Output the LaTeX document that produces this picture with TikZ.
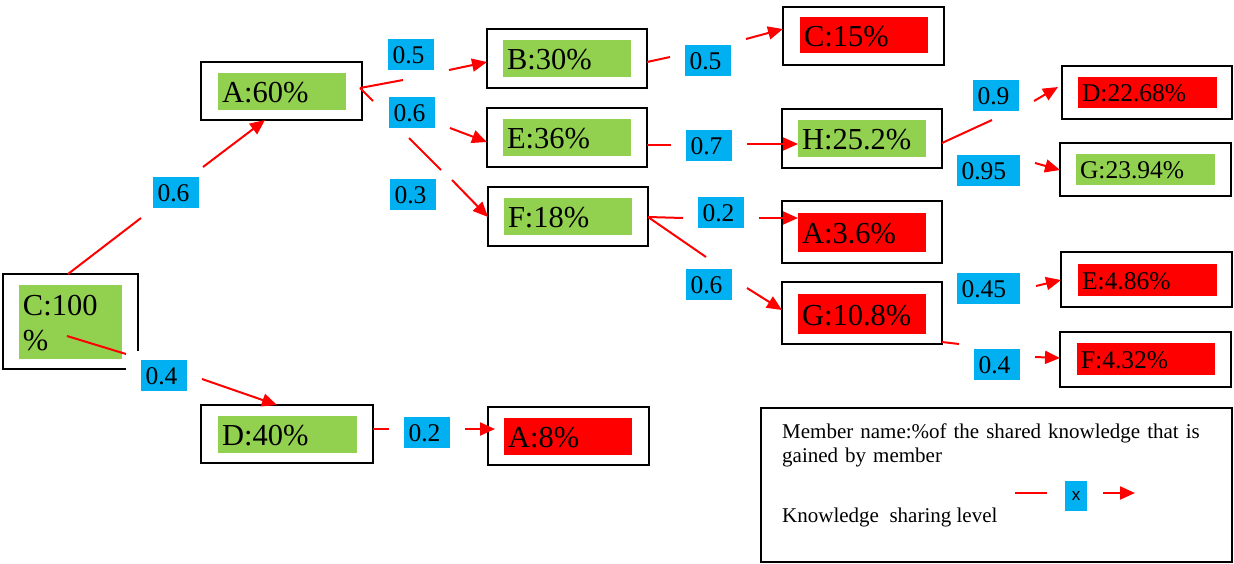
\documentclass[tikz,border=0pt]{standalone}
\usepackage{fontspec}
\setmainfont{Liberation Serif}
\newfontfamily\keyfont{Liberation Sans}
\usetikzlibrary{arrows.meta,calc}
\definecolor{leafgreen}{HTML}{92D050}
\definecolor{linkred}{HTML}{FF0000}
\definecolor{levelblue}{HTML}{00B0F0}

\begin{document}
\begin{tikzpicture}[x=1pt,y=-1pt,
  frame/.style 2 args={draw=black, line width=2pt, anchor=north west,
    inner sep=0pt, outer sep=0pt, minimum width=#1, minimum height=#2},
  share/.style={anchor=north west, inner xsep=4pt, inner ysep=0pt, outer sep=0pt,
    align=left, text height=22.5pt, text depth=0pt,
    font=\fontsize{30.5}{36}\selectfont},
  shareS/.style={share, text height=18pt, font=\fontsize{25.5}{30}\selectfont},
  gain/.style 2 args={share, fill=leafgreen, text width=#1, minimum height=#2},
  lost/.style 2 args={share, fill=linkred, text width=#1, minimum height=#2},
  gainS/.style 2 args={shareS, fill=leafgreen, text width=#1, minimum height=#2},
  lostS/.style 2 args={shareS, fill=linkred, text width=#1, minimum height=#2},
  level/.style={fill=levelblue, anchor=north west, inner xsep=4.5pt, inner ysep=0pt,
    outer sep=0pt, minimum height=31pt, text height=18.5pt, text depth=0pt,
    align=left, text width=37pt, font=\fontsize{25.5}{30}\selectfont},
  levelW/.style={level, text width=54pt},
  link/.style={draw=linkred, line width=2pt},
  flow/.style={link, -{Triangle[length=15pt,width=13pt]}},
]
\useasboundingbox (0,0) rectangle (1234,563);

% ---- member boxes: outer frame and coloured share tag ----
\node[frame={135pt}{95pt}, draw=none] (C) at (3,274) {};
\draw[line width=2pt] ($(C.south east)+(-12,0)$) -- (C.south west) -- (C.north west)
  -- (C.north east) -- ($(C.south east)+(0,-18)$);
\node[anchor=north west, fill=leafgreen, inner xsep=4pt, inner ysep=0pt, outer sep=0pt,
  align=left, text width=95pt, minimum height=74pt, text height=21pt, text depth=35pt,
  font=\fontsize{30.5}{35}\selectfont] (Cin) at (19,285) {C:100\\\%};

\node[frame={161pt}{58pt}] (A) at (201,62) {};
\node[gain={120pt}{37pt}] (Ain) at (218,73) {A:60\%};
\node[frame={160pt}{59pt}] (B) at (487,29) {};
\node[gain={120pt}{37pt}] (Bin) at (503,40) {B:30\%};
\node[frame={160pt}{59pt}] (E) at (487,108) {};
\node[gain={120pt}{37pt}] (Ein) at (503,119) {E:36\%};
\node[frame={160pt}{59pt}] (F) at (488,187) {};
\node[gain={120pt}{37pt}] (Fin) at (504,198) {F:18\%};
\node[frame={161pt}{58pt}] (C15) at (783,7) {};
\node[lost={120pt}{36pt}] (C15in) at (800,17) {C:15\%};
\node[frame={160pt}{59pt}] (H) at (782,109) {};
\node[gain={120pt}{37pt}] (Hin) at (798,120) {H:25.2\%};
\node[frame={160pt}{62pt}] (A36) at (782,201) {};
\node[lost={120pt}{39pt}] (A36in) at (798,213) {A:3.6\%};
\node[frame={160pt}{62pt}] (G108) at (782,282) {};
\node[lost={120pt}{40pt}] (G108in) at (798,294) {G:10.8\%};
\node[frame={172pt}{58pt}] (D40) at (201,405) {};
\node[gain={131pt}{37pt}] (D40in) at (218,416) {D:40\%};
\node[frame={161pt}{58pt}] (A8) at (488,407) {};
\node[lost={120pt}{37pt}] (A8in) at (504,418) {A:8\%};
\node[frame={170pt}{53pt}] (D22) at (1062,66) {};
\node[lostS={131pt}{31pt}] (D22in) at (1078,77) {D:22.68\%};
\node[frame={171pt}{53pt}] (G23) at (1060,143) {};
\node[gainS={131pt}{31pt}] (G23in) at (1076,154) {G:23.94\%};
\node[frame={171pt}{55pt}] (E486) at (1061,252) {};
\node[lostS={131pt}{32pt}] (E486in) at (1078,264) {E:4.86\%};
\node[frame={171pt}{55pt}] (F432) at (1060,332) {};
\node[lostS={130pt}{32pt}] (F432in) at (1077,343) {F:4.32\%};

% ---- connector break points ----
\coordinate (ca1) at ($(C.north west)+(65,0)$);
\coordinate (ca2) at (141,218);
\coordinate (ca3) at (203,167);
\coordinate (ca4) at ($(A.south west)+(64,0)$);
\coordinate (cd1) at (67,336);
\coordinate (cd2) at (126,354);
\coordinate (cd3) at (202,379);
\coordinate (cd4) at ($(D40.north west)+(76,0)$);
\coordinate (ab0) at ($(A.north east)+(-2,26)$);
\coordinate (ab1) at (403,80);
\coordinate (ab2) at (449,70);
\coordinate (ab3) at ($(B.north west)+(0,33)$);
\coordinate (ae2) at (450,128);
\coordinate (ae3) at ($(E.north west)+(0,34)$);
\coordinate (af1) at (373,101);
\coordinate (af2) at (409,138);
\coordinate (af3) at (441,170);
\coordinate (af4) at (452,180);
\coordinate (af5) at ($(F.north west)+(0,30)$);
\coordinate (bc1) at ($(B.north east)+(0,33)$);
\coordinate (bc2) at (670,57);
\coordinate (bc3) at (746,39);
\coordinate (bc4) at ($(C15.north west)+(0,22)$);
\coordinate (eh1) at ($(E.north east)+(0,37)$);
\coordinate (eh2) at (671,145);
\coordinate (eh3) at (747,144);
\coordinate (eh4) at ($(Hin.north west)+(0,24)$);
\coordinate (fa1) at ($(F.north east)+(0,30)$);
\coordinate (fa2) at (683,218);
\coordinate (fa3) at (759,218);
\coordinate (fa4) at ($(A36in.north west)+(0,5)$);
\coordinate (fg2) at (706,257);
\coordinate (fg3) at (747,288);
\coordinate (fg4) at ($(G108.north west)+(0,28)$);
\coordinate (hd1) at ($(H.north east)+(0,34)$);
\coordinate (hd2) at (992,120);
\coordinate (hd3) at (1034,101);
\coordinate (hd4) at ($(D22.north west)+(-4,21)$);
\coordinate (hg3) at (1035,163);
\coordinate (hg4) at ($(G23.north west)+(0,27)$);
\coordinate (ge3) at (1036,286);
\coordinate (ge4) at ($(E486.north west)+(0,28)$);
\coordinate (gf1) at ($(G108.north east)+(0,60)$);
\coordinate (gf2) at (959,344);
\coordinate (gf3) at (1035,357);
\coordinate (gf4) at ($(F432.north west)+(0,26)$);
\coordinate (da1) at ($(D40.north east)+(0,24)$);
\coordinate (da2) at (389,429);
\coordinate (da3) at (465,429);
\coordinate (da4) at ($(A8.north west)+(7,22)$);

% ---- connectors ----
\draw[link] (ca1) -- (ca2);  \draw[flow] (ca3) -- (ca4);
\draw[link] (cd1) -- (cd2);  \draw[flow] (cd3) -- (cd4);
\draw[link] (ab0) -- (ab1);  \draw[flow] (ab2) -- (ab3);
\draw[flow] (ae2) -- (ae3);
\draw[link] (ab0) -- (af1);  \draw[link] (af2) -- (af3);  \draw[flow] (af4) -- (af5);
\draw[link] (bc1) -- (bc2);  \draw[flow] (bc3) -- (bc4);
\draw[link] (eh1) -- (eh2);  \draw[flow] (eh3) -- (eh4);
\draw[link] (fa1) -- (fa2);  \draw[flow] (fa3) -- (fa4);
\draw[link] (fa1) -- (fg2);  \draw[flow] (fg3) -- (fg4);
\draw[link] (hd1) -- (hd2);  \draw[flow] (hd3) -- (hd4);
\draw[flow] (hg3) -- (hg4);
\draw[flow] (ge3) -- (ge4);
\draw[link] (gf1) -- (gf2);  \draw[flow] (gf3) -- (gf4);
\draw[link] (da1) -- (da2);  \draw[flow] (da3) -- (da4);

% ---- sharing levels ----
\node[level] (lvCA) at (153,177) {0.6};
\node[level] (lvCD) at (141,360) {0.4};
\node[level] (lvAB) at (388,39) {0.5};
\node[level] (lvAE) at (389,97) {0.6};
\node[level] (lvAF) at (390,179) {0.3};
\node[level] (lvBC) at (685,45) {0.5};
\node[level] (lvEH) at (686,130) {0.7};
\node[level] (lvFA) at (698,197) {0.2};
\node[level] (lvFG) at (686,269) {0.6};
\node[level] (lvHD) at (973,80) {0.9};
\node[levelW] (lvHG) at (957,155) {0.95};
\node[levelW] (lvGE) at (957,273) {0.45};
\node[level] (lvGF) at (974,349) {0.4};
\node[level] (lvDA) at (404,417) {0.2};

% ---- key ----
\node[frame={471pt}{154pt}] (legend) at (761,408) {};
\node[anchor=base west, inner sep=0pt, align=left, text width=440pt,
  font=\fontsize{21}{24}\selectfont] (keyShare) at (782,438)
  {Member name:\%of the shared knowledge that is\\gained by member};
\node[anchor=base west, inner sep=0pt, font=\fontsize{21}{24}\selectfont]
  (keyLevel) at (782,522) {Knowledge\ \ sharing level};
\node[fill=levelblue, minimum width=22pt, minimum height=30pt, inner sep=0pt,
  font=\keyfont\fontsize{17}{19}\selectfont] (keyX) at (1076,496) {x};
\coordinate (k1) at (1015,493);
\coordinate (k2) at (1047,493);
\coordinate (k3) at (1103,493);
\coordinate (k4) at (1135,493);
\draw[link] (k1) -- (k2);
\draw[flow] (k3) -- (k4);
\end{tikzpicture}
\end{document}
